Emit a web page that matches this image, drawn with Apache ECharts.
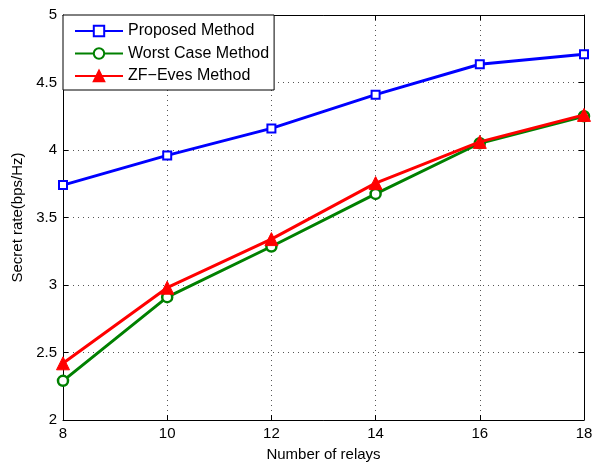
<!DOCTYPE html>
<html>
<head>
<meta charset="utf-8">
<script src="https://cdn.jsdelivr.net/npm/echarts@6/dist/echarts.min.js"></script>
<style>
  html, body { margin: 0; padding: 0; background: #fff; }
  #chart { width: 599px; height: 462px; }
</style>
</head>
<body>
<div id="chart"></div>
<script>
// 横轴：中继数
var relays = [8, 10, 12, 14, 16, 18];
var proposed = [3.74, 3.96, 4.16, 4.41, 4.635, 4.71];
var worstCase = [2.29, 2.91, 3.285, 3.675, 4.05, 4.25];
var zfEves = [2.42, 2.98, 3.34, 3.755, 4.06, 4.26];
var yTicks = [2, 2.5, 3, 3.5, 4, 4.5, 5];

function pairs(ys) {
  return relays.map(function (x, i) { return [x, ys[i]]; });
}

var font = "Liberation Sans, Arial, sans-serif";
var myChart = echarts.init(document.getElementById("chart"));

var gridLine = { show: true, lineStyle: { color: "#555", type: [1, 4], width: 1 } };

var option = {
  animation: false,
  textStyle: { fontFamily: font },
  grid: { left: 63, right: 15, top: 15, bottom: 42, show: false, outerBoundsMode: "none" },
  legend: {
    left: 63,
    top: 15,
    orient: "vertical",
    backgroundColor: "#fff",
    borderColor: "#000",
    borderWidth: 1,
    borderRadius: 0,
    padding: [8, 5, 6, 11],
    itemGap: 6.5,
    itemWidth: 48,
    itemHeight: 13,
    textStyle: { fontSize: 16, color: "#000", fontFamily: font },
    data: ["Proposed Method", "Worst Case Method", "ZF\u2212Eves Method"]
  },
  xAxis: [
    {
      type: "value",
      min: 8,
      max: 18,
      interval: 2,
      name: "Number of relays",
      nameLocation: "middle",
      nameGap: 27,
      nameTextStyle: { fontSize: 15, color: "#000" },
      axisLine: { show: true, onZero: false, lineStyle: { color: "#000" } },
      axisTick: { show: true, inside: true, length: 5, lineStyle: { color: "#000" } },
      axisLabel: { fontSize: 15, color: "#000", margin: 6 },
      splitLine: gridLine
    },
    {
      type: "value",
      position: "top",
      min: 8,
      max: 18,
      interval: 2,
      axisLine: { show: true, lineStyle: { color: "#000" } },
      axisTick: { show: true, inside: true, length: 5, lineStyle: { color: "#000" } },
      axisLabel: { show: false },
      splitLine: { show: false }
    }
  ],
  yAxis: [
    {
      type: "value",
      min: 2,
      max: 5,
      interval: 0.5,
      name: "Secret rate(bps/Hz)",
      nameLocation: "middle",
      nameGap: 36,
      nameTextStyle: { fontSize: 15, color: "#000" },
      axisLine: { show: true, lineStyle: { color: "#000" } },
      axisTick: { show: true, inside: true, length: 5, lineStyle: { color: "#000" } },
      axisLabel: {
        fontSize: 15,
        color: "#000",
        margin: 6,
        formatter: function (v) { return yTicks.indexOf(v) >= 0 ? String(v) : ""; }
      },
      splitLine: gridLine
    },
    {
      type: "value",
      position: "right",
      min: 2,
      max: 5,
      interval: 0.5,
      axisLine: { show: true, lineStyle: { color: "#000" } },
      axisTick: { show: true, inside: true, length: 5, lineStyle: { color: "#000" } },
      axisLabel: { show: false },
      splitLine: { show: false }
    }
  ],
  series: [
    {
      name: "Proposed Method",
      type: "line",
      data: pairs(proposed),
      symbol: "rect",
      symbolSize: 8,
      lineStyle: { color: "#0000ff", width: 3 },
      itemStyle: { color: "#fff", borderColor: "#0000ff", borderWidth: 2 },
      z: 3
    },
    {
      name: "Worst Case Method",
      type: "line",
      data: pairs(worstCase),
      symbol: "circle",
      symbolSize: 10,
      lineStyle: { color: "#008000", width: 3 },
      itemStyle: { color: "#fff", borderColor: "#008000", borderWidth: 2.5 },
      z: 4
    },
    {
      name: "ZF\u2212Eves Method",
      type: "line",
      data: pairs(zfEves),
      symbol: "triangle",
      symbolSize: 13,
      lineStyle: { color: "#ff0000", width: 3 },
      itemStyle: { color: "#ff0000", borderColor: "#ff0000", borderWidth: 1 },
      z: 5
    }
  ]
};
myChart.setOption(option);
</script>
</body>
</html>
